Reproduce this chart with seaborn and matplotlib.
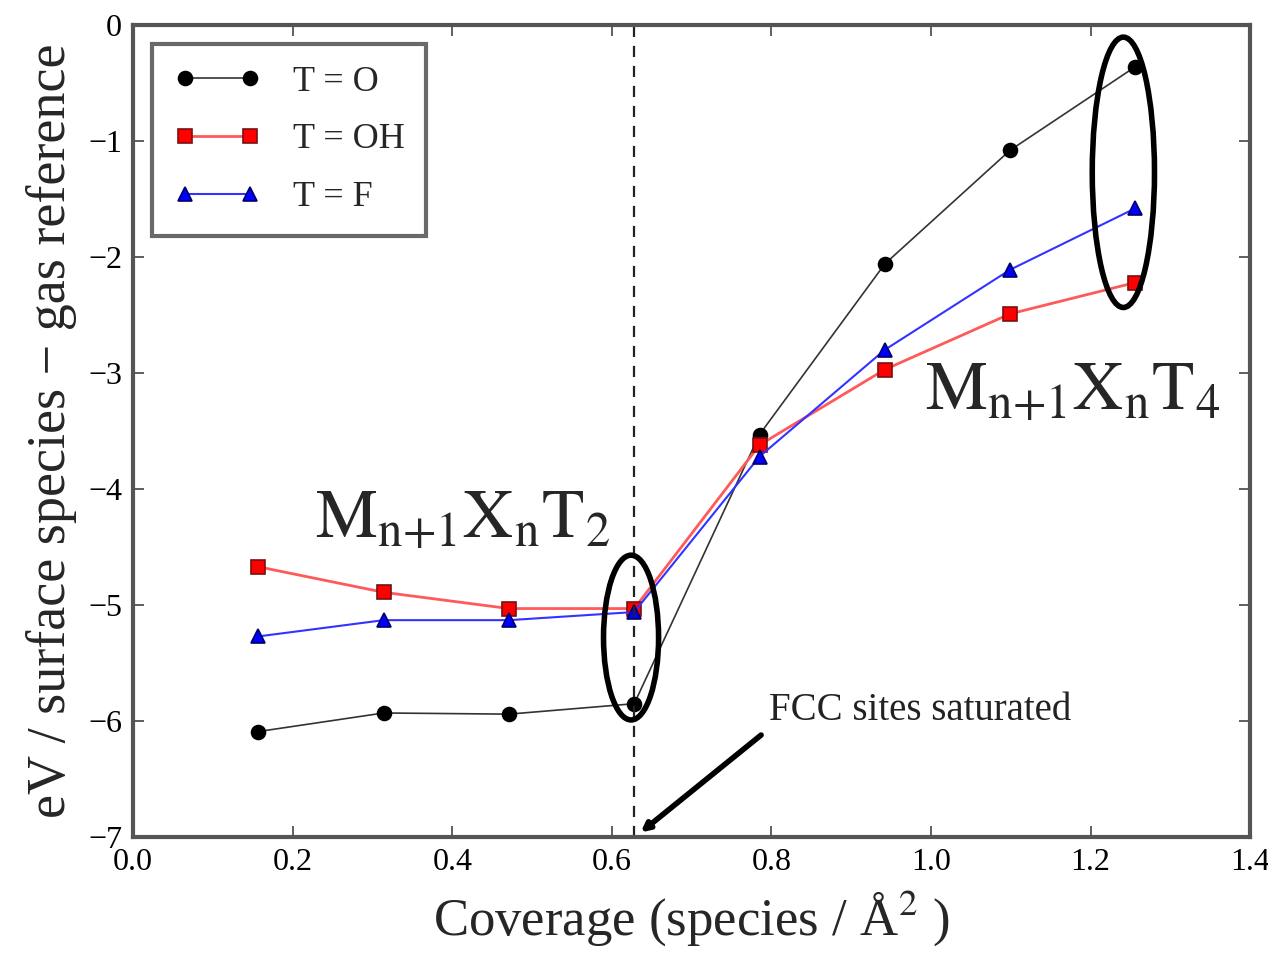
import matplotlib
matplotlib.use("Agg")
import matplotlib.pyplot as plt
from matplotlib.patches import Ellipse
import seaborn as sns
import pandas as pd

# Coverage values (species / Å^2)
coverage = [0.157, 0.314, 0.471, 0.628, 0.785, 0.942, 1.099, 1.256]

# Energies (eV / surface species - gas reference)
energy_O = [-6.09, -5.93, -5.94, -5.85, -3.53, -2.06, -1.08, -0.36]
energy_OH = [-4.67, -4.89, -5.03, -5.03, -3.62, -2.97, -2.49, -2.22]
energy_F = [-5.27, -5.13, -5.13, -5.06, -3.72, -2.80, -2.11, -1.58]

series_labels = ["T = O", "T = OH", "T = F"]

sns.set_theme(style="ticks")
plt.rcParams["font.family"] = ["Liberation Serif", "DejaVu Serif"]
plt.rcParams["mathtext.fontset"] = "stix"

fig = plt.figure(figsize=(12.68, 9.6), dpi=100)
ax = fig.add_axes([0.105, 0.128, 0.881, 0.846])

styles = [
    (energy_O, "black", "o", "#333333", "black", 1.2),
    (energy_OH, "red", "s", "#ff5a5a", "#7a1010", 2.0),
    (energy_F, "blue", "^", "#3333ff", "#000066", 1.5),
]
for (vals, col, mk, lc, ec, lw), lab in zip(styles, series_labels):
    df = pd.DataFrame({"coverage": coverage, "energy": vals})
    sns.lineplot(data=df, x="coverage", y="energy", ax=ax, color=lc,
                 linewidth=lw, marker=mk, markersize=10,
                 markerfacecolor=col, markeredgecolor=ec,
                 markeredgewidth=1.2, label=lab)

ax.axvline(0.628, color="#222222", linestyle=(0, (5, 4)), linewidth=1.6)

# Ellipses marking the two termination regimes
ax.add_patch(Ellipse((0.624, -5.28), 0.069, 1.42, fill=False,
                     edgecolor="black", linewidth=4, zorder=5))
ax.add_patch(Ellipse((1.241, -1.27), 0.078, 2.33, fill=False,
                     edgecolor="black", linewidth=4, zorder=5))

ax.text(0.228, -4.42, r"$\mathrm{M_{n{+}1}X_nT_2}$", fontsize=50)
ax.text(0.993, -3.32, r"$\mathrm{M_{n{+}1}X_nT_4}$", fontsize=50)

# Arrow pointing to the saturation coverage, with its caption
ax.annotate("", xy=(0.636, -6.96), xytext=(0.787, -6.12),
            arrowprops=dict(arrowstyle="-|>", color="black", lw=4,
                            shrinkA=0, shrinkB=0, mutation_scale=12))
ax.text(0.797, -5.91, "FCC sites saturated", fontsize=28, color="#222222",
        ha="left", va="center")

ax.set_xlim(0.0, 1.4)
ax.set_ylim(-7, 0)
ax.set_xticks([0.0, 0.2, 0.4, 0.6, 0.8, 1.0, 1.2, 1.4])
ax.set_yticks([0, -1, -2, -3, -4, -5, -6, -7])
ax.set_yticklabels(["0", "\u22121", "\u22122", "\u22123", "\u22124", "\u22125", "\u22126", "\u22127"])
ax.tick_params(direction="in", length=8, width=1.2, top=True, right=True,
               labelsize=23, colors="#444444", labelcolor="black", pad=8)
for s in ax.spines.values():
    s.set_color("#555555")
    s.set_linewidth(3)

ax.set_xlabel("Coverage (species / \u00c5$^2$ )", fontsize=38, labelpad=8)
ax.set_ylabel("eV / surface species \u2212 gas reference", fontsize=39, labelpad=8)

leg = ax.legend(loc="upper left", fontsize=26, numpoints=2, frameon=True,
                fancybox=False, handlelength=2.4, borderpad=0.6,
                labelspacing=0.68, handletextpad=0.9, borderaxespad=0,
                bbox_to_anchor=(0.017, 0.977))
leg.get_frame().set_edgecolor("#444444")
leg.get_frame().set_linewidth(3)

fig.savefig("out.png", dpi=100)
